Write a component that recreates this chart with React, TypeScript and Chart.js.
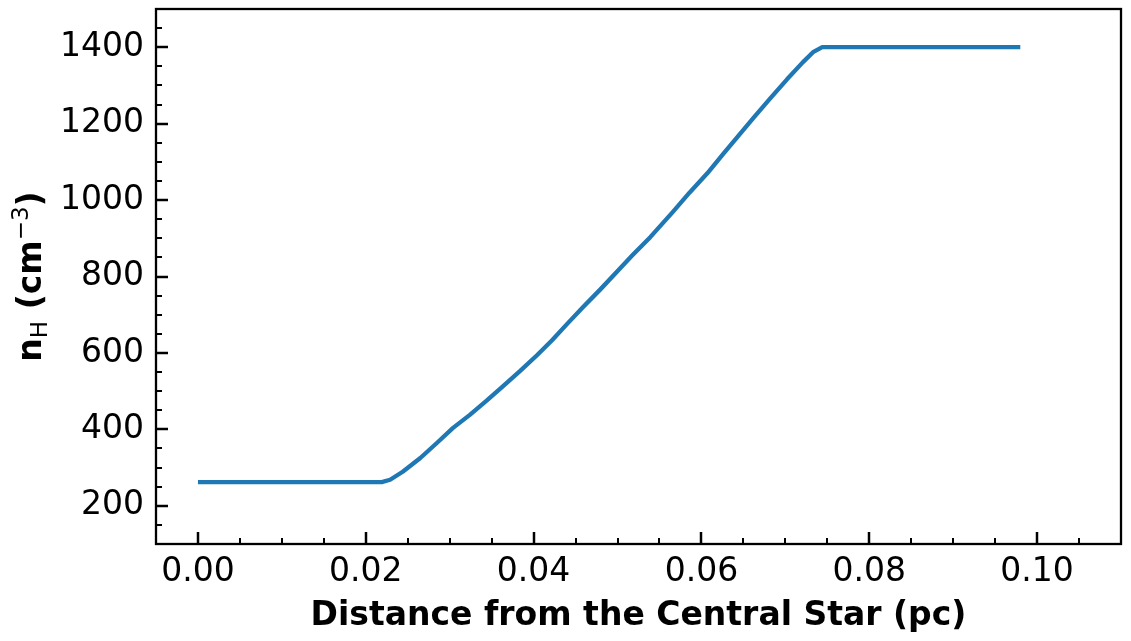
import React, { useEffect, useRef } from "react";
import { Chart, registerables } from "chart.js";

Chart.register(...registerables);

// Data
const distancePc = [0, 0.0219, 0.0229, 0.0244, 0.0265, 0.0285, 0.0304, 0.0324, 0.0344, 0.0364, 0.0384, 0.0404, 0.0422, 0.044, 0.0459, 0.0479, 0.0499, 0.0518, 0.0539, 0.0566, 0.0586, 0.0607, 0.0626, 0.0642, 0.0662, 0.0682, 0.0702, 0.0721, 0.0733, 0.0744, 0.098];
const densityNH = [262, 262, 268, 289, 325, 365, 404, 438, 475, 514, 553, 594, 633, 676, 720, 765, 812, 856, 903, 969, 1020, 1070, 1121, 1163, 1215, 1266, 1316, 1361, 1387, 1400, 1400];

// Axis ticks
const xMajorTicks = [0, 0.02, 0.04, 0.06, 0.08, 0.1];
const xMinorTicks = [0.005, 0.01, 0.015, 0.025, 0.03, 0.035, 0.045, 0.05, 0.055, 0.065, 0.07, 0.075, 0.085, 0.09, 0.095, 0.105];
const yMajorTicks = [200, 400, 600, 800, 1000, 1200, 1400];
const yMinorTicks = [150, 250, 300, 350, 450, 500, 550, 650, 700, 750, 850, 900, 950, 1050, 1100, 1150, 1250, 1300, 1350, 1450];

const X_MIN = -0.005, X_MAX = 0.11, Y_MIN = 100, Y_MAX = 1500;
const FONT = "'DejaVu Sans', sans-serif";

const framePlugin = {
  id: "mplFrame",
  afterDraw(chart: any) {
    const { ctx, chartArea, scales } = chart;
    const { left, right, top, bottom } = chartArea;
    const x = scales.x, y = scales.y;
    ctx.save();
    ctx.strokeStyle = "#000";
    ctx.lineCap = "butt";
    // x ticks (inward)
    ctx.lineWidth = 2.5;
    xMajorTicks.forEach((v) => {
      const px = Math.round(x.getPixelForValue(v));
      ctx.beginPath(); ctx.moveTo(px, bottom); ctx.lineTo(px, bottom - 12); ctx.stroke();
    });
    ctx.lineWidth = 2;
    xMinorTicks.forEach((v) => {
      const px = Math.round(x.getPixelForValue(v));
      ctx.beginPath(); ctx.moveTo(px, bottom); ctx.lineTo(px, bottom - 6); ctx.stroke();
    });
    // y ticks (inward)
    ctx.lineWidth = 2.5;
    yMajorTicks.forEach((v) => {
      const py = Math.round(y.getPixelForValue(v));
      ctx.beginPath(); ctx.moveTo(left, py); ctx.lineTo(left + 12, py); ctx.stroke();
    });
    ctx.lineWidth = 2;
    yMinorTicks.forEach((v) => {
      const py = Math.round(y.getPixelForValue(v));
      ctx.beginPath(); ctx.moveTo(left, py); ctx.lineTo(left + 6, py); ctx.stroke();
    });
    // frame
    ctx.lineWidth = 2.3;
    ctx.strokeRect(left, top, right - left, bottom - top);

    // x title
    ctx.fillStyle = "#000";
    ctx.font = `bold 33px ${FONT}`;
    ctx.textAlign = "center";
    ctx.textBaseline = "alphabetic";
    ctx.fillText("Distance from the Central Star (pc)", (left + right) / 2, 625);

    // y title with subscript / superscript
    const parts = [
      { t: "n", f: `bold 33px ${FONT}`, dy: 0 },
      { t: "H", f: `23px ${FONT}`, dy: 6 },
      { t: " (cm", f: `bold 33px ${FONT}`, dy: 0 },
      { t: "\u22123", f: `23px ${FONT}`, dy: -13 },
      { t: ")", f: `bold 33px ${FONT}`, dy: 0 },
    ];
    let total = 0;
    parts.forEach((p) => { ctx.font = p.f; total += ctx.measureText(p.t).width; });
    ctx.translate(41, (top + bottom) / 2);
    ctx.rotate(-Math.PI / 2);
    ctx.textAlign = "left";
    let cx = -total / 2;
    parts.forEach((p) => {
      ctx.font = p.f;
      ctx.fillText(p.t, cx, p.dy);
      cx += ctx.measureText(p.t).width;
    });
    ctx.restore();
  },
};

export default function App() {
  const ref = useRef<HTMLCanvasElement | null>(null);
  useEffect(() => {
    document.body.style.margin = "0";
    const canvas = ref.current!;
    const chart = new Chart(canvas, {
      type: "scatter",
      data: {
        datasets: [
          {
            data: distancePc.map((d, i) => ({ x: d, y: densityNH[i] })),
            showLine: true,
            borderColor: "#1f77b4",
            borderWidth: 4.3,
            borderJoinStyle: "round",
            borderCapStyle: "butt",
            pointRadius: 0,
            tension: 0,
            fill: false,
          },
        ],
      },
      options: {
        animation: false,
        responsive: false,
        layout: { padding: { left: 0, right: 10, top: 9, bottom: 0 } },
        plugins: { legend: { display: false }, tooltip: { enabled: false } },
        scales: {
          x: {
            type: "linear",
            min: X_MIN,
            max: X_MAX,
            grid: { display: false, drawTicks: false },
            border: { display: false },
            afterBuildTicks: (s: any) => { s.ticks = xMajorTicks.map((v) => ({ value: v })); },
            afterFit: (s: any) => { s.height = 97; s.paddingLeft = 0; s.paddingRight = 0; },
            ticks: {
              color: "#000",
              font: { family: FONT, size: 33 },
              padding: 9,
              maxRotation: 0,
              callback: (v: any) => Number(v).toFixed(2),
            },
          },
          y: {
            type: "linear",
            min: Y_MIN,
            max: Y_MAX,
            grid: { display: false, drawTicks: false },
            border: { display: false },
            afterBuildTicks: (s: any) => { s.ticks = yMajorTicks.map((v) => ({ value: v })); },
            afterFit: (s: any) => { s.width = 156; s.paddingTop = 0; s.paddingBottom = 0; },
            ticks: {
              color: "#000",
              font: { family: FONT, size: 33 },
              padding: 12,
              callback: (v: any) => String(v),
            },
          },
        },
      },
      plugins: [framePlugin],
    });
    return () => chart.destroy();
  }, []);
  return <canvas ref={ref} width={1131} height={641} />;
}
